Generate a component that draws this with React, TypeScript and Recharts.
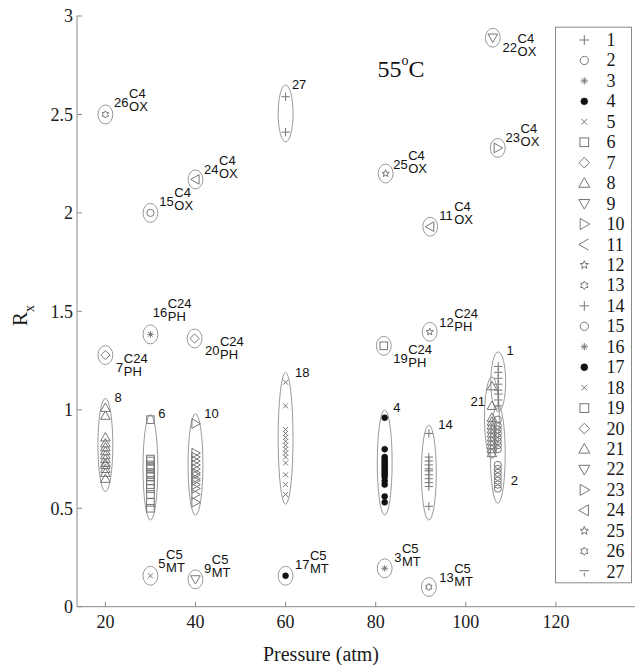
import React from 'react';
import { ScatterChart, Scatter, XAxis, YAxis, ReferenceArea, Customized } from 'recharts';

// ---------- data ----------
const seriesIds = [1, 2, 3, 4, 5, 6, 7, 8, 9, 10, 11, 12, 13, 14, 15, 16, 17, 18, 19, 20, 21, 22, 23, 24, 25, 26, 27];

const markerKinds = [
  'plus', 'circle', 'asterisk', 'dot', 'x', 'square', 'diamond', 'triUp', 'triDown', 'triRight', 'triLeft', 'star', 'hexagram',
  'plus', 'circle', 'asterisk', 'dot', 'x', 'square', 'diamond', 'triUp', 'triDown', 'triRight', 'triLeft', 'star', 'hexagram', 'plus',
];
const legendKinds = [
  'plus', 'circle', 'asterisk', 'dot', 'x', 'square', 'diamond', 'triUp', 'triDown', 'triRight', 'chevron', 'star', 'hexagram',
  'plus', 'circle', 'asterisk', 'dot', 'x', 'square', 'diamond', 'triUp', 'triDown', 'triRight', 'triLeft', 'star', 'hexagram', 'tee',
];

// pressure (atm) of each series
const pressure = [
  107.2, 107.1, 82.0, 82.0, 30, 30, 20, 20, 40, 40, 92.1, 92.0, 91.8, 91.8,
  30, 30, 60, 60, 81.8, 39.8, 105.8, 106.0, 107.1, 40, 82.2, 20, 60,
];

// Rx values of each series
const rx1 = [1.22, 1.19, 1.16, 1.13, 1.10, 1.08, 1.05, 1.02];
const rx2 = [0.95, 0.92, 0.90, 0.88, 0.86, 0.84, 0.82, 0.80, 0.72, 0.70, 0.68, 0.66, 0.64, 0.62, 0.60];
const rx3 = [0.195];
const rx4 = [0.96, 0.80, 0.76, 0.75, 0.74, 0.73, 0.72, 0.71, 0.70, 0.69, 0.68, 0.67, 0.66, 0.64, 0.62, 0.56, 0.53];
const rx5 = [0.157];
const rx6 = [0.95, 0.75, 0.74, 0.72, 0.71, 0.70, 0.68, 0.67, 0.66, 0.64, 0.62, 0.60, 0.57, 0.53, 0.50];
const rx7 = [1.278];
const rx8 = [1.01, 0.97, 0.86, 0.83, 0.81, 0.79, 0.77, 0.75, 0.73, 0.72, 0.70, 0.68, 0.65];
const rx9 = [0.139];
const rx10 = [0.93, 0.78, 0.76, 0.74, 0.72, 0.70, 0.68, 0.67, 0.65, 0.64, 0.62, 0.60, 0.57, 0.53];
const rx11 = [1.93];
const rx12 = [1.396];
const rx13 = [0.10];
const rx14 = [0.88, 0.76, 0.74, 0.72, 0.70, 0.69, 0.67, 0.65, 0.63, 0.61, 0.51];
const rx15 = [2.0];
const rx16 = [1.383];
const rx17 = [0.157];
const rx18 = [1.14, 1.02, 0.90, 0.88, 0.86, 0.84, 0.82, 0.80, 0.78, 0.76, 0.73, 0.67, 0.62, 0.57];
const rx19 = [1.325];
const rx20 = [1.362];
const rx21 = [1.12, 1.02, 0.96, 0.94, 0.92, 0.90, 0.88, 0.86, 0.84, 0.82, 0.80, 0.78];
const rx22 = [2.89];
const rx23 = [2.33];
const rx24 = [2.17];
const rx25 = [2.20];
const rx26 = [2.50];
const rx27 = [2.59, 2.41];
const rxValues = [rx1, rx2, rx3, rx4, rx5, rx6, rx7, rx8, rx9, rx10, rx11, rx12, rx13, rx14, rx15, rx16, rx17, rx18, rx19, rx20, rx21, rx22, rx23, rx24, rx25, rx26, rx27];

// cluster ellipse extents (Rx) for multi-point series
const clusterIds = [1, 2, 4, 6, 8, 10, 14, 18, 21, 27];
const clusterLow = [0.99, 0.525, 0.465, 0.44, 0.585, 0.465, 0.44, 0.52, 0.753, 2.36];
const clusterHigh = [1.294, 1.024, 1.0, 0.975, 1.058, 0.98, 0.922, 1.19, 1.167, 2.65];

// annotation labels (data coordinates)
const labelIds = ['26', '15', '24', '27', '22', '23', '25', '11', '12', '19', '16', '20', '7', '5', '9', '17', '3', '13', '8', '6', '10', '18', '4', '14', '1', '21', '2'];
const labelX = [21.93, 31.98, 41.9, 61.4, 108.17, 108.84, 83.9, 94.11, 94.11, 83.9, 30.52, 42.12, 22.37, 31.76, 41.9, 62.09, 84.12, 94.11, 22.0, 31.76, 41.97, 62.09, 83.9, 93.89, 109.06, 101.07, 110.0];
const labelY = [2.538, 2.034, 2.2, 2.63, 2.817, 2.36, 2.225, 1.963, 1.42, 1.236, 1.47, 1.278, 1.192, 0.195, 0.173, 0.19, 0.228, 0.124, 1.041, 0.956, 0.959, 1.168, 0.99, 0.9, 1.278, 1.019, 0.618];
const labelSup = ['C4', 'C4', 'C4', '', 'C4', 'C4', 'C4', 'C4', 'C24', 'C24', 'C24', 'C24', 'C24', 'C5', 'C5', 'C5', 'C5', 'C5', '', '', '', '', '', '', '', '', ''];
const labelSub = ['OX', 'OX', 'OX', '', 'OX', 'OX', 'OX', 'OX', 'PH', 'PH', 'PH', 'PH', 'PH', 'MT', 'MT', 'MT', 'MT', 'MT', '', '', '', '', '', '', '', '', ''];

const tempLabel = [{ x: 80.4, y: 2.69, text: '55', sup: 'o', unit: 'C' }];

const xTicks = [20, 40, 60, 80, 100, 120];
const yTicks = [0, 0.5, 1, 1.5, 2, 2.5, 3];
const xDomain = [13.7, 140];
const yDomain = [0, 3];

// ---------- styles ----------
const MARK = '#767676';
const ELLIPSE = '#9a9a9a';
const AXIS = '#8a8a8a';
const HALF_W = 1.65; // ellipse half width in atm
const SINGLE_PAD = 0.048; // ellipse half height for single points
const SERIF = '"Liberation Serif", "Times New Roman", serif';
const SANS = '"Liberation Sans", Arial, sans-serif';

function starPoints(cx: number, cy: number, n: number, ro: number, ri: number) {
  const pts: string[] = [];
  for (let i = 0; i < 2 * n; i++) {
    const r = i % 2 === 0 ? ro : ri;
    const a = -Math.PI / 2 + (i * Math.PI) / n;
    pts.push(`${(cx + r * Math.cos(a)).toFixed(2)},${(cy + r * Math.sin(a)).toFixed(2)}`);
  }
  return pts.join(' ');
}

function Marker({ kind, cx, cy, legend }: { kind: string; cx: number; cy: number; legend?: boolean }) {
  const st = { stroke: MARK, strokeWidth: 1, fill: 'none' };
  const k = legend ? 1.15 : 1;
  switch (kind) {
    case 'plus': {
      const a = 4.2 * k;
      return <path d={`M${cx - a},${cy}H${cx + a}M${cx},${cy - a}V${cy + a}`} {...st} />;
    }
    case 'tee': {
      const a = 4.2 * k;
      return <path d={`M${cx - a},${cy - 1}H${cx + a}M${cx},${cy + 1}V${cy + a}`} {...st} />;
    }
    case 'circle':
      return <circle cx={cx} cy={cy} r={3.6 * k} {...st} />;
    case 'asterisk': {
      const a = 3.2 * k, b = 2.2 * k;
      return <path d={`M${cx - a},${cy}H${cx + a}M${cx},${cy - a}V${cy + a}M${cx - b},${cy - b}L${cx + b},${cy + b}M${cx - b},${cy + b}L${cx + b},${cy - b}`} {...st} />;
    }
    case 'dot':
      return <circle cx={cx} cy={cy} r={3 * k} fill="#111" stroke="#111" strokeWidth={0.5} />;
    case 'x': {
      const a = 2.5 * k;
      return <path d={`M${cx - a},${cy - a}L${cx + a},${cy + a}M${cx - a},${cy + a}L${cx + a},${cy - a}`} {...st} />;
    }
    case 'square': {
      const a = 3.8 * k;
      return <rect x={cx - a} y={cy - a} width={2 * a} height={2 * a} {...st} />;
    }
    case 'diamond': {
      const a = 4.6 * k;
      return <polygon points={`${cx},${cy - a} ${cx + a},${cy} ${cx},${cy + a} ${cx - a},${cy}`} {...st} />;
    }
    case 'triUp': {
      const a = 4.8 * k;
      return <polygon points={`${cx},${cy - a} ${cx + a},${cy + a * 0.75} ${cx - a},${cy + a * 0.75}`} {...st} />;
    }
    case 'triDown': {
      const a = 4.8 * k;
      return <polygon points={`${cx},${cy + a} ${cx + a},${cy - a * 0.75} ${cx - a},${cy - a * 0.75}`} {...st} />;
    }
    case 'triRight': {
      const a = 4.8 * k;
      return <polygon points={`${cx + a},${cy} ${cx - a * 0.75},${cy - a} ${cx - a * 0.75},${cy + a}`} {...st} />;
    }
    case 'triLeft': {
      const a = 4.8 * k;
      return <polygon points={`${cx - a},${cy} ${cx + a * 0.75},${cy - a} ${cx + a * 0.75},${cy + a}`} {...st} />;
    }
    case 'chevron': {
      const a = 4.8 * k;
      return <polyline points={`${cx + a * 0.75},${cy - a} ${cx - a},${cy} ${cx + a * 0.75},${cy + a}`} {...st} />;
    }
    case 'star':
      return <polygon points={starPoints(cx, cy, 5, 3.8 * k, 1.6 * k)} {...st} />;
    case 'hexagram':
      return <polygon points={starPoints(cx, cy, 6, 3.6 * k, 2.2 * k)} {...st} />;
    default:
      return null;
  }
}

const seriesData = seriesIds.map((id, i) => rxValues[i].map((y) => ({ x: pressure[i], y })));

const ellipseData = seriesIds.map((id, i) => {
  const ci = clusterIds.indexOf(id);
  const low = ci >= 0 ? clusterLow[ci] : rxValues[i][0] - SINGLE_PAD;
  const high = ci >= 0 ? clusterHigh[ci] : rxValues[i][0] + SINGLE_PAD;
  return { id, x1: pressure[i] - HALF_W, x2: pressure[i] + HALF_W, y1: low, y2: high };
});

const labelData = labelIds.map((num, i) => ({ x: labelX[i], y: labelY[i], num, sup: labelSup[i], sub: labelSub[i] }));

const EllipseShape = (p: any) => {
  const w = Math.abs(p.width), h = Math.abs(p.height);
  const x = Math.min(p.x, p.x + p.width), y = Math.min(p.y, p.y + p.height);
  return <ellipse cx={x + w / 2} cy={y + h / 2} rx={w / 2} ry={h / 2} fill="none" stroke={ELLIPSE} strokeWidth={1} />;
};

const LabelShape = (p: any) => {
  const { cx, cy, payload } = p;
  const w = payload.num.length * 7.23;
  return (
    <g fontFamily={SANS} fontSize={13} fill="#111">
      <text x={cx} y={cy}>{payload.num}</text>
      {payload.sup ? <text x={cx + w + 0.5} y={cy - 9}>{payload.sup}</text> : null}
      {payload.sub ? <text x={cx + w + 0.5} y={cy + 4}>{payload.sub}</text> : null}
    </g>
  );
};

const TempShape = (p: any) => {
  const { cx, cy, payload } = p;
  return (
    <text x={cx} y={cy} fontFamily={SERIF} fontSize={24} fill="#111">
      {payload.text}
      <tspan dy={-12} fontSize={14}>{payload.sup}</tspan>
      <tspan dy={12}>{payload.unit}</tspan>
    </text>
  );
};

// legend box drawn inside the chart surface
const LEG_X = 555, LEG_Y = 26.7, LEG_W = 77, LEG_H = 556.6, LEG_ROW = 20.45, LEG_FIRST = 13.3;
const LegendBox = () => (
  <g className="legend-box">
    <rect x={LEG_X + 0.5} y={LEG_Y + 0.5} width={LEG_W - 1} height={LEG_H - 1} fill="#fff" stroke={AXIS} strokeWidth={1} />
    {seriesIds.map((id, i) => {
      const cy = LEG_Y + LEG_FIRST + i * LEG_ROW;
      return (
        <g key={`lg${id}`}>
          <Marker kind={legendKinds[i]} cx={LEG_X + 29.3} cy={cy} legend />
          <text x={LEG_X + 51.5} y={cy + 6} fontFamily={SERIF} fontSize={18} fill="#1a1a1a">{String(id)}</text>
        </g>
      );
    })}
  </g>
);

const XLabel = (p: any) => {
  const vb = p.viewBox || { x: 77, y: 606.7, width: 569, height: 30 };
  return (
    <text x={vb.x + 244} y={vb.y + 54.5} textAnchor="middle" fontFamily={SERIF} fontSize={20} fill="#1a1a1a">
      Pressure (atm)
    </text>
  );
};

const YLabel = () => (
  <text x={27} y={326} transform="rotate(-90, 27, 326)" fontFamily={SERIF} fontSize={21} fill="#1a1a1a">
    R<tspan dy={7} fontSize={14}>x</tspan>
  </text>
);

export default function App() {
  return (
    <div style={{ position: 'absolute', left: 0, top: 0, width: 635, height: 665, overflow: 'hidden', background: '#fff' }}>
      <ScatterChart width={660} height={665} margin={{ top: 16, right: 14, bottom: 28.3, left: 17 }}>
        <XAxis
          xAxisId={0}
          dataKey="x"
          type="number"
          domain={xDomain}
          ticks={xTicks}
          allowDataOverflow
          height={30}
          stroke={AXIS}
          tickSize={-5}
          tickMargin={14}
          tick={{ fontFamily: SERIF, fontSize: 18, fill: '#1a1a1a' }}
          label={XLabel}
        />
        <XAxis
          xAxisId="top"
          orientation="top"
          type="number"
          domain={xDomain}
          ticks={xTicks}
          allowDataOverflow
          height={0}
          stroke={AXIS}
          tickSize={-5}
          tick={false}
        />
        <YAxis
          yAxisId={0}
          dataKey="y"
          type="number"
          domain={yDomain}
          ticks={yTicks}
          allowDataOverflow
          width={60}
          stroke={AXIS}
          tickSize={-5}
          tickMargin={9}
          tick={{ fontFamily: SERIF, fontSize: 18, fill: '#1a1a1a' }}
          label={YLabel}
        />
        {ellipseData.map((e) => (
          <ReferenceArea key={`e${e.id}`} x1={e.x1} x2={e.x2} y1={e.y1} y2={e.y2} shape={EllipseShape} ifOverflow="visible" />
        ))}
        {seriesIds.map((id, i) => (
          <Scatter
            key={`s${id}`}
            name={String(id)}
            data={seriesData[i]}
            isAnimationActive={false}
            shape={(p: any) => <Marker kind={markerKinds[i]} cx={p.cx} cy={p.cy} />}
          />
        ))}
        <Scatter name="_labels" data={labelData} isAnimationActive={false} legendType="none" shape={LabelShape} />
        <Scatter name="_temp" data={tempLabel} isAnimationActive={false} legendType="none" shape={TempShape} />
        <Customized component={LegendBox} />
      </ScatterChart>
    </div>
  );
}
